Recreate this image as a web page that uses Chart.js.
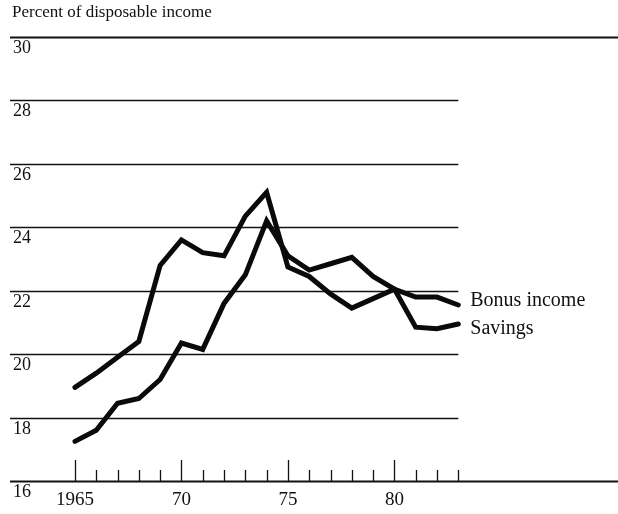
<!DOCTYPE html>
<html>
<head>
<meta charset="utf-8">
<script src="https://cdn.jsdelivr.net/npm/chart.js@4"></script>
<style>
  html, body { margin: 0; padding: 0; background: #fff; }
  canvas { display: block; }
</style>
</head>
<body>
<canvas id="chart" width="618" height="514"></canvas>
<script>
// Bonus income and savings, percent of disposable income, 1965-83

const years = [1965, 1966, 1967, 1968, 1969, 1970, 1971, 1972, 1973, 1974,
               1975, 1976, 1977, 1978, 1979, 1980, 1981, 1982, 1983];
const bonusIncome = [18.95, 19.4, 19.9, 20.4, 22.8, 23.6, 23.2, 23.1, 24.35, 25.1,
                     22.75, 22.45, 21.9, 21.45, 21.75, 22.05, 21.8, 21.8, 21.55];
const savings = [17.25, 17.6, 18.45, 18.6, 19.2, 20.35, 20.15, 21.6, 22.5, 24.2,
                 23.1, 22.65, 22.85, 23.05, 22.45, 22.05, 20.85, 20.8, 20.95];

const yTicks = [30, 28, 26, 24, 22, 20, 18, 16];
const xLabelYears = [1965, 1970, 1975, 1980];
const xLabels = ['1965', '70', '75', '80'];
const seriesNames = ['Bonus income', 'Savings'];
const unitLabel = 'Percent of disposable income';

const SERIF = '"Liberation Serif", "DejaVu Serif", serif';

// draws the axis furniture: title, gridlines, tick labels, year ticks
const framePlugin = {
  id: 'frame',
  beforeDatasetsDraw(chart) {
    const { ctx, chartArea, scales } = chart;
    const x = scales.x, y = scales.y;
    const lastX = x.getPixelForValue(years[years.length - 1]);
    ctx.save();
    ctx.fillStyle = '#111';
    ctx.strokeStyle = '#111';

    ctx.font = '17px ' + SERIF;
    ctx.textAlign = 'left';
    ctx.textBaseline = 'alphabetic';
    ctx.fillText(unitLabel, 12, 17);

    yTicks.forEach((v, i) => {
      const py = Math.round(y.getPixelForValue(v)) + 0.5;
      const full = (i === 0 || i === yTicks.length - 1);
      ctx.lineWidth = full ? 2 : 1.5;
      ctx.beginPath();
      ctx.moveTo(chartArea.left, py);
      ctx.lineTo(full ? chartArea.right : lastX, py);
      ctx.stroke();
      ctx.font = '18px ' + SERIF;
      ctx.fillText(String(v), 13, py + 15);
    });

    // year ticks on the bottom line
    const base = y.getPixelForValue(yTicks[yTicks.length - 1]);
    ctx.lineWidth = 1.3;
    years.forEach(yr => {
      const px = Math.round(x.getPixelForValue(yr)) + 0.5;
      const major = xLabelYears.includes(yr);
      ctx.beginPath();
      ctx.moveTo(px, base);
      ctx.lineTo(px, base - (major ? 21 : 11));
      ctx.stroke();
    });

    ctx.font = '19px ' + SERIF;
    ctx.textAlign = 'center';
    xLabelYears.forEach((yr, i) => {
      ctx.fillText(xLabels[i], x.getPixelForValue(yr), 505);
    });
    ctx.restore();
  },
  afterDatasetsDraw(chart) {
    const { ctx } = chart;
    ctx.save();
    ctx.fillStyle = '#111';
    ctx.font = '20px ' + SERIF;
    ctx.textAlign = 'left';
    ctx.textBaseline = 'middle';
    const offsets = [-4, 5];
    chart.data.datasets.forEach((ds, i) => {
      const meta = chart.getDatasetMeta(i);
      const pt = meta.data[meta.data.length - 1];
      ctx.fillText(ds.label, pt.x + 12, pt.y + offsets[i]);
    });
    ctx.restore();
  }
};

function toPoints(values) {
  return years.map((yr, i) => ({ x: yr, y: values[i] }));
}

const lineStyle = {
  borderColor: '#0a0a0a',
  borderWidth: 5,
  pointRadius: 0,
  tension: 0,
  borderCapStyle: 'round',
  borderJoinStyle: 'miter',
  fill: false
};

new Chart(document.getElementById('chart').getContext('2d'), {
  type: 'line',
  data: {
    datasets: [
      Object.assign({ label: seriesNames[0], data: toPoints(bonusIncome) }, lineStyle),
      Object.assign({ label: seriesNames[1], data: toPoints(savings) }, lineStyle)
    ]
  },
  options: {
    responsive: false,
    animation: false,
    devicePixelRatio: 1,
    layout: { padding: { left: 10, right: 0, top: 37, bottom: 33 } },
    plugins: {
      legend: { display: false },
      tooltip: { enabled: false }
    },
    scales: {
      x: { type: 'linear', min: 1961.95, max: 1990.5, display: false },
      y: { type: 'linear', min: 16, max: 30, display: false }
    }
  },
  plugins: [framePlugin]
});
</script>
</body>
</html>
